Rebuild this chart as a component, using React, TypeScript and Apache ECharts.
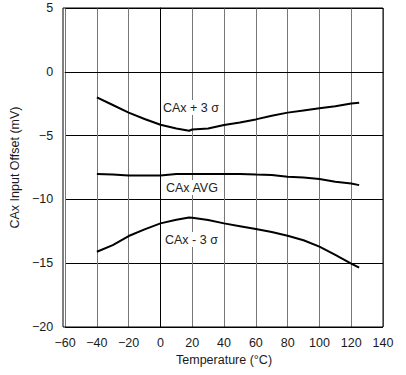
import React, { useEffect, useRef } from "react";
import * as echarts from "echarts";

const temps = [-40, -30, -20, -10, 0, 10, 18, 20, 30, 40, 50, 60, 70, 80, 90, 100, 110, 120, 125];
const plus3s = [-2.0, -2.6, -3.2, -3.7, -4.15, -4.45, -4.62, -4.52, -4.45, -4.17, -3.98, -3.73, -3.45, -3.2, -3.03, -2.86, -2.7, -2.48, -2.42];
const avg = [-8.0, -8.05, -8.12, -8.12, -8.12, -8.0, -8.0, -8.0, -8.0, -8.0, -8.0, -8.05, -8.08, -8.22, -8.28, -8.4, -8.62, -8.75, -8.88];
const minus3s = [-14.1, -13.58, -12.87, -12.35, -11.88, -11.6, -11.42, -11.43, -11.62, -11.88, -12.1, -12.32, -12.55, -12.85, -13.2, -13.7, -14.35, -15.03, -15.35];

const seriesLabels = ["CAx + 3 σ", "CAx AVG", "CAx - 3 σ"];
const xTitle = "Temperature (°C)";
const yTitle = "CAx Input Offset (mV)";

const fmt = (v: number) => String(v).replace("-", "\u2212");

export default function App() {
  const ref = useRef<HTMLDivElement>(null);
  useEffect(() => {
    const chart = echarts.init(ref.current!, null, { renderer: "svg" });
    const mk = (vals: number[]) => temps.map((t, i) => [t, vals[i]]);
    const font = "'Liberation Sans', Arial, sans-serif";
    const txt = "#1a1a1a";
    const lbl = (text: string, left: number, top: number) => ({
      type: "text",
      left,
      top,
      z: 20,
      style: { text, fontSize: 12.5, fill: "#222", fontFamily: font, backgroundColor: "#fff", padding: [1, 2] },
    });
    chart.setOption({
      animation: false,
      textStyle: { fontFamily: font },
      grid: { left: 63, right: 23, top: 8, bottom: 48 },
      xAxis: {
        type: "value",
        min: -60,
        max: 140,
        interval: 20,
        name: xTitle,
        nameLocation: "middle",
        nameGap: 25,
        nameTextStyle: { fontSize: 12.5, color: txt, fontFamily: font },
        axisLine: { lineStyle: { color: "#000", width: 1 } },
        axisTick: { show: false },
        axisLabel: { formatter: fmt, fontSize: 12.5, color: txt, margin: 9, fontFamily: font },
        splitLine: { show: true, lineStyle: { color: "#777", width: 1 } },
      },
      yAxis: {
        type: "value",
        min: -20,
        max: 5,
        interval: 5,
        name: yTitle,
        nameLocation: "middle",
        nameGap: 37,
        nameTextStyle: { fontSize: 12.5, color: txt, fontFamily: font },
        axisLine: { lineStyle: { color: "#000", width: 1 } },
        axisTick: { show: false },
        axisLabel: { formatter: fmt, fontSize: 12.5, color: txt, margin: 12, fontFamily: font },
        splitLine: { show: true, lineStyle: { color: "#000", width: 1 } },
      },
      graphic: [
        { type: "rect", shape: { x: 63, y: 8, width: 320, height: 319 }, style: { fill: "none", stroke: "#000", lineWidth: 1 }, silent: true, z: 10 },
        lbl(seriesLabels[0], 161, 100),
        lbl(seriesLabels[1], 164, 180),
        lbl(seriesLabels[2], 163, 232),
      ],
      series: [plus3s, avg, minus3s].map((v, i) => ({
        name: seriesLabels[i],
        type: "line",
        data: mk(v),
        showSymbol: false,
        smooth: false,
        lineStyle: { color: "#000", width: 2 },
      })),
    });
    return () => chart.dispose();
  }, []);
  return <div ref={ref} style={{ position: "absolute", left: 0, top: 0, width: 406, height: 375 }} />;
}
